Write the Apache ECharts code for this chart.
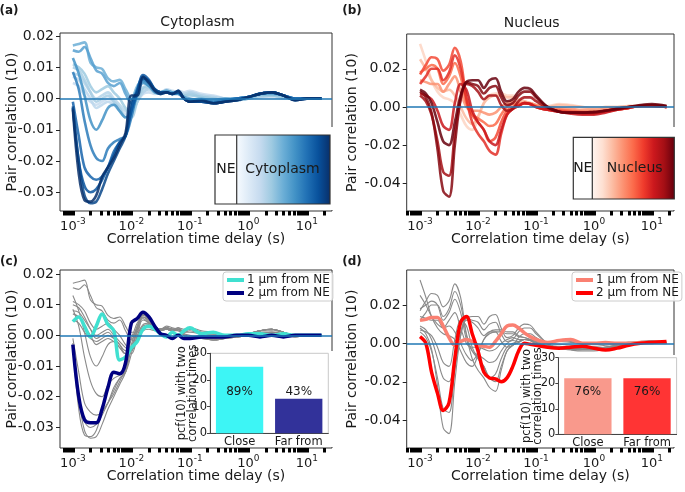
<!DOCTYPE html>
<html>
<head>
<meta charset="utf-8">
<script src="https://cdn.jsdelivr.net/npm/echarts@6/dist/echarts.min.js"></script>
<style>
  html, body { margin: 0; padding: 0; background: #fff; }
  #main { width: 685px; height: 492px; }
</style>
</head>
<body>
<div id="main"></div>
<script>
// correlation time delay (s), shared by every curve
const delayTimes = [0.001, 0.00126, 0.00158, 0.002, 0.00251, 0.00316, 0.00398, 0.00501, 0.00631, 0.00794,
  0.01, 0.0126, 0.0158, 0.02, 0.0251, 0.0316, 0.0398, 0.0501, 0.0631, 0.0794,
  0.1, 0.158, 0.251, 0.398, 0.631, 1, 1.58, 2.51, 3.98, 6.31, 10, 17.8];

// (a) cytoplasm pair correlation, light (near NE) -> dark (far)
const cyto1 = [0.005, 0.004, 0.001, -0.001, -0.002, -0.001, 0.000, -0.001, -0.003, -0.005, -0.004, -0.001, 0.0015, 0.002, 0.0015, 0.002, 0.0025, 0.002, 0.0025, 0.002, 0.0025, 0.0015, 0.001, 0.000, -0.0005, 0.000, 0.0005, 0.0005, 0.000, 0.000, 0.000, 0.000];
const cyto2 = [0.007, 0.006, 0.003, 0.000, -0.003, -0.002, -0.001, -0.002, -0.004, -0.006, -0.005, -0.001, 0.002, 0.003, 0.002, 0.002, 0.003, 0.0025, 0.002, 0.0015, 0.002, 0.001, 0.0005, 0.000, -0.0005, 0.000, 0.0005, 0.001, 0.0005, 0.000, 0.000, 0.000];
const cyto3 = [0.008, 0.0075, 0.005, 0.002, 0.000, 0.001, 0.002, 0.000, -0.002, -0.004, -0.005, -0.001, 0.002, 0.003, 0.002, 0.002, 0.0025, 0.002, 0.002, 0.0015, 0.002, 0.001, 0.0005, 0.000, -0.0005, 0.000, 0.0005, 0.001, 0.0005, 0.000, 0.000, 0.000];
const cyto4 = [0.010, 0.009, 0.006, 0.002, -0.001, 0.000, 0.001, -0.001, -0.003, -0.006, -0.006, -0.001, 0.003, 0.0035, 0.002, 0.002, 0.0025, 0.002, 0.002, 0.001, 0.0015, 0.0005, 0.000, -0.0005, -0.0005, 0.000, 0.001, 0.001, 0.0005, 0.000, 0.000, 0.000];
const cyto5 = [0.011, 0.010, 0.008, 0.004, 0.002, 0.003, 0.004, 0.002, 0.000, -0.003, -0.005, 0.000, 0.0035, 0.004, 0.0025, 0.002, 0.0025, 0.002, 0.002, 0.001, 0.001, 0.0005, 0.000, -0.0005, -0.0005, 0.000, 0.001, 0.001, 0.0005, 0.000, 0.000, 0.000];
const cyto6 = [0.017, 0.0175, 0.018, 0.0115, 0.010, 0.0095, 0.0065, 0.0055, 0.006, 0.003, 0.000, 0.004, 0.006, 0.0045, 0.0025, 0.002, 0.0025, 0.002, 0.002, 0.0005, -0.0005, 0.000, -0.001, -0.0005, 0.000, 0.0005, 0.0015, 0.002, 0.001, 0.000, 0.000, 0.000];
const cyto7 = [0.0155, 0.015, 0.0165, 0.013, 0.009, 0.008, 0.005, 0.004, 0.005, 0.0015, -0.0015, 0.003, 0.0055, 0.004, 0.0025, 0.002, 0.0025, 0.002, 0.0015, 0.0005, 0.000, -0.0005, -0.0005, 0.000, 0.000, 0.0005, 0.0015, 0.0015, 0.001, 0.000, 0.000, 0.000];
const cyto8 = [0.013, 0.008, 0.001, -0.007, -0.010, -0.007, -0.003, -0.002, -0.004, -0.006, -0.004, 0.001, 0.005, 0.004, 0.002, 0.0015, 0.002, 0.0015, 0.0015, 0.000, -0.0005, -0.0005, -0.001, -0.0005, 0.000, 0.0005, 0.0015, 0.002, 0.001, 0.000, 0.000, 0.000];
const cyto9 = [0.0085, 0.003, -0.007, -0.015, -0.019, -0.020, -0.016, -0.014, -0.013, -0.012, -0.006, 0.002, 0.006, 0.005, 0.0025, 0.0015, 0.002, 0.0015, 0.002, 0.000, -0.001, -0.0005, -0.001, -0.0005, 0.000, 0.0005, 0.0015, 0.002, 0.001, 0.000, 0.000, 0.000];
const cyto10 = [-0.001, -0.012, -0.022, -0.025, -0.026, -0.025, -0.022, -0.017, -0.014, -0.012, -0.003, 0.003, 0.007, 0.0055, 0.003, 0.002, 0.002, 0.0015, 0.002, 0.000, -0.001, -0.001, -0.0015, -0.001, 0.000, 0.0005, 0.0015, 0.002, 0.001, 0.000, 0.000, 0.000];
const cyto11 = [-0.003, -0.020, -0.028, -0.030, -0.029, -0.026, -0.022, -0.018, -0.014, -0.012, -0.004, 0.002, 0.0075, 0.006, 0.003, 0.002, 0.002, 0.0015, 0.0025, 0.000, -0.001, -0.001, -0.0015, -0.001, -0.0005, 0.0005, 0.0015, 0.002, 0.001, -0.0005, 0.000, 0.000];
const cyto12 = [-0.0025, -0.020, -0.031, -0.0335, -0.033, -0.029, -0.024, -0.020, -0.016, -0.012, -0.001, 0.002, 0.0065, 0.0055, 0.003, 0.002, 0.002, 0.0015, 0.002, 0.000, -0.001, -0.001, -0.0015, -0.001, -0.0005, 0.0005, 0.0015, 0.002, 0.001, -0.0005, 0.000, 0.000];
const cyto13 = [-0.0035, -0.024, -0.0325, -0.033, -0.031, -0.025, -0.022, -0.019, -0.015, -0.011, 0.001, 0.001, 0.007, 0.005, 0.0025, 0.0015, 0.002, 0.0015, 0.0025, 0.000, -0.001, -0.0005, -0.0015, -0.001, -0.0005, 0.0005, 0.0015, 0.002, 0.001, -0.0005, 0.000, 0.000];

// (b) nucleus pair correlation, light -> dark
const nuc1 = [0.033, 0.024, 0.014, 0.008, 0.005, 0.004, 0.002, -0.004, -0.010, -0.012, -0.006, 0.002, 0.006, 0.007, 0.007, 0.006, 0.006, 0.004, 0.003, 0.002, 0.001, 0.0005, 0.0015, 0.001, 0.000, -0.0005, 0.000, 0.000, 0.0005, 0.0005, 0.0005, 0.000];
const nuc2 = [0.025, 0.020, 0.014, 0.010, 0.008, 0.009, 0.006, 0.000, -0.006, -0.009, -0.005, 0.002, 0.005, 0.006, 0.006, 0.005, 0.005, 0.0035, 0.003, 0.002, 0.001, 0.000, 0.001, 0.0005, 0.000, -0.0005, 0.000, 0.000, 0.0005, 0.0005, 0.0005, 0.000];
const nuc3 = [0.014, 0.013, 0.012, 0.012, 0.008, 0.012, 0.016, 0.008, 0.000, -0.002, -0.002, -0.003, -0.004, -0.003, 0.000, 0.002, 0.003, 0.002, 0.002, 0.002, 0.001, 0.000, -0.0005, -0.001, -0.0015, -0.0015, -0.001, -0.0005, 0.000, 0.0005, 0.0005, 0.000];
const nuc4 = [0.018, 0.020, 0.022, 0.020, 0.012, 0.016, 0.023, 0.016, 0.002, -0.004, -0.006, -0.008, -0.010, -0.009, -0.004, 0.000, 0.0015, 0.001, 0.002, 0.0015, 0.0005, -0.001, -0.0015, -0.002, -0.0025, -0.0025, -0.002, -0.001, -0.0005, 0.0005, 0.0005, 0.000];
const nuc5 = [0.017, 0.022, 0.026, 0.025, 0.019, 0.022, 0.031, 0.024, 0.005, -0.004, -0.008, -0.012, -0.018, -0.016, -0.008, -0.002, 0.000, 0.001, 0.002, 0.0015, 0.000, -0.0015, -0.002, -0.0025, -0.003, -0.003, -0.002, -0.0015, -0.0005, 0.0005, 0.0005, 0.000];
const nuc6 = [0.012, 0.016, 0.020, 0.020, 0.014, 0.018, 0.027, 0.020, 0.004, -0.008, -0.014, -0.018, -0.023, -0.025, -0.014, -0.004, -0.001, 0.0005, 0.002, 0.0015, 0.000, -0.0015, -0.0025, -0.003, -0.0035, -0.0035, -0.0025, -0.0015, -0.0005, 0.0005, 0.0005, 0.000];
const nuc7 = [0.007, 0.006, 0.004, -0.002, -0.010, -0.012, 0.002, 0.012, 0.009, -0.002, -0.008, -0.012, -0.018, -0.020, -0.012, -0.004, -0.001, 0.0005, 0.002, 0.0015, 0.000, -0.0015, -0.0025, -0.0035, -0.004, -0.004, -0.003, -0.0015, -0.0005, 0.0005, 0.0005, 0.000];
const nuc8 = [0.006, 0.003, -0.004, -0.018, -0.034, -0.036, -0.014, 0.004, 0.012, 0.011, 0.008, 0.004, 0.006, 0.006, 0.001, -0.002, -0.001, 0.003, 0.005, 0.005, 0.003, -0.0005, -0.0025, -0.003, -0.003, -0.003, -0.002, -0.001, 0.000, 0.0005, 0.0005, 0.000];
const nuc9 = [0.008, 0.005, -0.003, -0.022, -0.044, -0.047, -0.020, 0.004, 0.013, 0.012, 0.011, 0.007, 0.010, 0.011, 0.005, 0.001, 0.002, 0.006, 0.008, 0.008, 0.005, 0.000, -0.0025, -0.003, -0.003, -0.003, -0.002, -0.001, 0.000, 0.0005, 0.001, 0.0005];
const nuc10 = [0.009, 0.007, 0.002, -0.008, -0.018, -0.020, -0.008, 0.006, 0.013, 0.014, 0.014, 0.010, 0.014, 0.015, 0.008, 0.003, 0.004, 0.008, 0.010, 0.0095, 0.006, 0.000, -0.0025, -0.003, -0.003, -0.0025, -0.002, -0.001, 0.000, 0.001, 0.0015, 0.0005];

// (c) / (d) highlighted curves
const cytoNear = [0.0045, 0.006, 0.003, -0.0005, 0.003, 0.007, 0.0035, 0.0015, -0.008, -0.007, -0.004, -0.002, 0.002, 0.003, 0.002, 0.0005, -0.0005, 0.001, 0.000, 0.0015, 0.0025, 0.0005, 0.001, 0.000, 0.000, 0.0005, 0.0005, 0.000, 0.0005, 0.000, 0.000, 0.000];
const cytoFar = [-0.003, -0.020, -0.0275, -0.0285, -0.0285, -0.024, -0.017, -0.012, -0.0125, -0.009, 0.004, 0.0055, 0.0075, 0.006, 0.003, 0.0005, 0.000, -0.001, 0.000, -0.001, -0.001, -0.0005, -0.0005, -0.0005, 0.000, 0.000, -0.0005, 0.000, -0.0005, 0.000, 0.000, 0.000];
const nucNear = [0.012, 0.0125, 0.0135, 0.0135, 0.009, 0.003, -0.001, 0.001, 0.002, 0.001, -0.001, -0.0015, -0.002, 0.001, 0.005, 0.009, 0.0095, 0.008, 0.0055, 0.0035, 0.002, 0.0005, 0.0015, 0.002, 0.000, 0.000, 0.0005, 0.000, 0.000, 0.0005, 0.0005, 0.0005];
const nucFar = [0.0035, 0.000, -0.015, -0.026, -0.035, -0.031, -0.008, 0.011, 0.014, 0.005, -0.004, -0.015, -0.018, -0.0185, -0.020, -0.018, -0.012, -0.004, 0.000, -0.0005, -0.001, -0.002, -0.0025, -0.002, -0.0015, -0.0025, -0.0035, -0.0025, -0.001, 0.000, 0.0005, 0.001];

// inset bar charts
const barCategories = ['Close', 'Far from'];
const twoTimesCyto = [25, 13];
const twoTimesNuc = [22, 22];
const pctCyto = ['89%', '43%'];
const pctNuc = ['76%', '76%'];

// tick labels
const yTicksCyto = [-0.03, -0.02, -0.01, 0, 0.01, 0.02];
const yTicksNuc = [-0.04, -0.02, 0, 0.02];
const xDecades = [-3, -2, -1, 0, 1];

const cytoCurves = [cyto1, cyto2, cyto3, cyto4, cyto5, cyto6, cyto7, cyto8, cyto9, cyto10, cyto11, cyto12, cyto13];
const nucCurves = [nuc1, nuc2, nuc3, nuc4, nuc5, nuc6, nuc7, nuc8, nuc9, nuc10];
const cytoColors = ['#c6dbef', '#bcd7ec', '#b4d3e9', '#a8cee4', '#9ecae1', '#6baed6', '#57a0d0', '#4292c6', '#2b7bba', '#1764ab', '#0b559f', '#08468a', '#08306b'];
const nucColors = ['#fdd5c3', '#fcbba1', '#fc9272', '#fb6a4a', '#f34935', '#e32f27', '#c9181d', '#a50f15', '#860811', '#67000d'];

const FONT = 'DejaVu Sans';
const INK = '#1a1a1a';

const logDelay = delayTimes.map(t => Math.log10(t));
const toPoints = vals => vals.map((v, i) => [logDelay[i], v]);

function minorTicksIn(lo, hi) {
  const out = [];
  for (let d = -4; d <= 1; d++) {
    for (let k = 1; k <= 9; k++) {
      const v = d + Math.log10(k);
      if (v >= lo && v <= hi) out.push(v);
    }
  }
  return out;
}

const panels = [
  { left: 60, top: 33, width: 272, height: 178, x: [-3.22, 1.43], y: [-0.036, 0.021], yTicks: yTicksCyto, gap: 41 },
  { left: 406.7, top: 34, width: 267.3, height: 177, x: [-3.23, 1.38], y: [-0.0545, 0.0382], yTicks: yTicksNuc, gap: 47 },
  { left: 60, top: 270, width: 272, height: 178, x: [-3.22, 1.43], y: [-0.0367, 0.0213], yTicks: yTicksCyto, gap: 41 },
  { left: 406.7, top: 270, width: 267.3, height: 178, x: [-3.23, 1.38], y: [-0.0545, 0.0382], yTicks: yTicksNuc, gap: 47 }
];

const grid = [], xAxis = [], yAxis = [], series = [];

panels.forEach((p, i) => {
  grid.push({
    left: p.left, top: p.top, width: p.width, height: p.height,
    show: true, borderColor: '#333', borderWidth: 1, backgroundColor: 'transparent',
    containLabel: false, outerBoundsMode: 'none'
  });
  xAxis.push({
    type: 'value', gridIndex: i, min: p.x[0], max: p.x[1], position: 'bottom',
    axisLine: { show: false, onZero: false }, splitLine: { show: false },
    axisTick: { show: true, customValues: minorTicksIn(p.x[0], p.x[1]), length: 4.5, lineStyle: { color: '#000', width: 3 } },
    axisLabel: {
      customValues: xDecades, margin: 6, color: INK, fontFamily: FONT,
      formatter: v => '{b|10}{sup|' + v + '}',
      rich: {
        b: { fontSize: 13, fontFamily: FONT, color: INK, verticalAlign: 'bottom' },
        sup: { fontSize: 9, fontFamily: FONT, color: INK, verticalAlign: 'bottom', padding: [0, 0, 7, 0] }
      }
    },
    name: 'Correlation time delay (s)', nameLocation: 'middle', nameGap: 21, nameMoveOverlap: false,
    nameTextStyle: { fontSize: 14, fontFamily: FONT, color: INK }
  });
  yAxis.push({
    type: 'value', gridIndex: i, min: p.y[0], max: p.y[1], position: 'left',
    axisLine: { show: false, onZero: false }, splitLine: { show: false },
    axisTick: { show: true, customValues: p.yTicks, length: 4, lineStyle: { color: '#222', width: 1 } },
    axisLabel: { customValues: p.yTicks, margin: 6, fontSize: 14, fontFamily: FONT, color: INK, formatter: v => v.toFixed(2) },
    name: 'Pair correlation (10)', nameLocation: 'middle', nameGap: p.gap, nameMoveOverlap: false,
    nameTextStyle: { fontSize: 14, fontFamily: FONT, color: INK }
  });
});

const zeroLine = {
  silent: true, symbol: ['none', 'none'], label: { show: false }, animation: false,
  lineStyle: { color: '#1f77b4', width: 1.5, type: 'solid', opacity: 1 },
  data: [{ yAxis: 0 }]
};

function curve(idx, vals, color, width, extra) {
  return Object.assign({
    type: 'line', xAxisIndex: idx, yAxisIndex: idx, data: toPoints(vals),
    smooth: 0.35, showSymbol: false, symbol: 'none', silent: true, animation: false,
    color: color, itemStyle: { color: color },
    lineStyle: { color: color, width: width }, z: 2
  }, extra || {});
}

// (a) and (b)
cytoCurves.forEach((c, k) => series.push(curve(0, c, cytoColors[k], 2.6,
  { lineStyle: { color: cytoColors[k], width: 2.6, opacity: 0.85 }, markLine: k === cytoCurves.length - 1 ? zeroLine : undefined })));
nucCurves.forEach((c, k) => series.push(curve(1, c, nucColors[k], 2.6,
  { lineStyle: { color: nucColors[k], width: 2.6, opacity: 0.85 }, markLine: k === nucCurves.length - 1 ? zeroLine : undefined })));

// (c) and (d): grey background curves + highlights
cytoCurves.forEach((c, k) => series.push(curve(2, c, '#8a8a8a', 1.1,
  { markLine: k === cytoCurves.length - 1 ? zeroLine : undefined })));
series.push(curve(2, cytoNear, '#40e0d0', 3.5, { name: 'c|1 μm from NE', z: 3 }));
series.push(curve(2, cytoFar, '#000080', 3.5, { name: 'c|2 μm from NE', z: 3 }));
nucCurves.forEach((c, k) => series.push(curve(3, c, '#8a8a8a', 1.1,
  { markLine: k === nucCurves.length - 1 ? zeroLine : undefined })));
series.push(curve(3, nucNear, '#fa8072', 3.5, { name: 'd|1 μm from NE', z: 3 }));
series.push(curve(3, nucFar, '#ff0000', 3.5, { name: 'd|2 μm from NE', z: 3 }));

// insets
const insets = [
  { left: 210, top: 353.3, width: 118.3, height: 80, values: twoTimesCyto, pct: pctCyto, colors: ['#3df5f5', '#32329a'],
    labels: [{ position: 'insideTop', distance: 19 }, { position: 'top', distance: 1 }], gap: 11 },
  { left: 558.3, top: 357.7, width: 118.3, height: 76.6, values: twoTimesNuc, pct: pctNuc, colors: ['#f9998c', '#ff3434'],
    labels: [{ position: 'insideTop', distance: 8 }, { position: 'insideTop', distance: 8 }], gap: 15 }
];
insets.forEach((s, j) => {
  const gi = 4 + j;
  grid.push({ left: s.left, top: s.top, width: s.width, height: s.height, show: false, containLabel: false, outerBoundsMode: 'none' });
  xAxis.push({
    type: 'category', gridIndex: gi, data: barCategories, z: 10,
    axisLine: { show: true, lineStyle: { color: '#444', width: 1 } }, axisTick: { show: false },
    axisLabel: { interval: 0, hideOverlap: false, fontSize: 11.5, fontFamily: FONT, color: INK, margin: 3 }
  });
  yAxis.push({
    type: 'value', gridIndex: gi, min: 0, max: 30, interval: 10, z: 10,
    axisLine: { show: true, lineStyle: { color: '#444', width: 1 } },
    axisTick: { show: true, length: 3, lineStyle: { color: '#444' } }, splitLine: { show: false },
    axisLabel: { fontSize: 11.5, fontFamily: FONT, color: INK, margin: 3 },
    name: 'pcf(10) with two\ncorrelation times', nameLocation: 'middle', nameGap: s.gap, nameMoveOverlap: false,
    nameTextStyle: { fontSize: 11.5, fontFamily: FONT, color: INK, lineHeight: 11 }
  });
  series.push({
    type: 'bar', xAxisIndex: gi, yAxisIndex: gi, barWidth: '80%', z: 10, silent: true, animation: false,
    data: s.values.map((v, i) => ({
      value: v,
      itemStyle: { color: s.colors[i] },
      label: Object.assign({ show: true, formatter: s.pct[i], fontSize: 12, fontFamily: FONT, color: INK }, s.labels[i])
    }))
  });
});

function txt(x, y, str, size, extra) {
  return {
    type: 'text', x: x, y: y, z: 8, silent: true,
    style: Object.assign({
      text: str, fill: INK, font: 'normal ' + size + 'px "' + FONT + '"',
      align: 'center', verticalAlign: 'middle', textAlign: 'center', textVerticalAlign: 'middle'
    }, extra || {})
  };
}
function rect(x, y, w, h, style, z) {
  return { type: 'rect', shape: { x: x, y: y, width: w, height: h }, style: style, z: z, silent: true };
}
const blues = new echarts.graphic.LinearGradient(0, 0, 1, 0, [
  { offset: 0, color: '#f7fbff' }, { offset: 0.125, color: '#deebf7' }, { offset: 0.25, color: '#c6dbef' },
  { offset: 0.375, color: '#9ecae1' }, { offset: 0.5, color: '#6baed6' }, { offset: 0.625, color: '#4292c6' },
  { offset: 0.75, color: '#2171b5' }, { offset: 0.875, color: '#08519c' }, { offset: 1, color: '#08306b' }]);
const reds = new echarts.graphic.LinearGradient(0, 0, 1, 0, [
  { offset: 0, color: '#fff5f0' }, { offset: 0.125, color: '#fee0d2' }, { offset: 0.25, color: '#fcbba1' },
  { offset: 0.375, color: '#fc9272' }, { offset: 0.5, color: '#fb6a4a' }, { offset: 0.625, color: '#ef3b2c' },
  { offset: 0.75, color: '#cb181d' }, { offset: 0.875, color: '#a50f15' }, { offset: 1, color: '#67000d' }]);

const graphic = [
  txt(9, 11, '(a)', 12, { font: 'bold 12px "' + FONT + '"' }),
  txt(352, 11, '(b)', 12, { font: 'bold 12px "' + FONT + '"' }),
  txt(9, 262, '(c)', 12, { font: 'bold 12px "' + FONT + '"' }),
  txt(352, 262, '(d)', 12, { font: 'bold 12px "' + FONT + '"' }),
  txt(197.5, 22.5, 'Cytoplasm', 14),
  txt(531.7, 23, 'Nucleus', 14),
  // white covers (inset backgrounds hide the right spine)
  rect(212, 127, 124, 83, { fill: '#fff' }, 5),
  rect(571, 127, 106, 83, { fill: '#fff' }, 5),
  rect(200, 351, 136, 96, { fill: '#fff' }, 5),
  rect(543, 355, 142, 92, { fill: '#fff' }, 5),
  // colour bars
  rect(236.7, 135, 93.3, 69, { fill: blues }, 6),
  rect(215, 135, 115, 69, { fill: 'none', stroke: '#333', lineWidth: 1.2 }, 7),
  { type: 'line', shape: { x1: 236.7, y1: 135, x2: 236.7, y2: 204 }, style: { stroke: '#333', lineWidth: 1.2 }, z: 7, silent: true },
  txt(226, 169.5, 'NE', 14),
  txt(282.5, 169.5, 'Cytoplasm', 14),
  rect(592.3, 137.3, 82, 61.7, { fill: reds }, 6),
  rect(573.3, 137.3, 101, 61.7, { fill: 'none', stroke: '#333', lineWidth: 1.2 }, 7),
  { type: 'line', shape: { x1: 592.3, y1: 137.3, x2: 592.3, y2: 199 }, style: { stroke: '#333', lineWidth: 1.2 }, z: 7, silent: true },
  txt(582.8, 168.5, 'NE', 14),
  txt(634.7, 168.5, 'Nucleus', 14),
  // inset frames
  rect(210, 353.3, 118.3, 80, { fill: 'none', stroke: '#c8c8c8', lineWidth: 1 }, 6),
  rect(558.3, 357.7, 118.3, 76.6, { fill: 'none', stroke: '#c8c8c8', lineWidth: 1 }, 6)
];

function legendFor(prefix, left) {
  return {
    data: [prefix + '|1 μm from NE', prefix + '|2 μm from NE'],
    left: left, top: 272, orient: 'vertical', icon: 'rect', itemWidth: 17, itemHeight: 4, itemGap: 1,
    padding: [2, 3, 2, 4], selectedMode: false, z: 9,
    backgroundColor: 'rgba(255,255,255,0.85)', borderColor: '#ccc', borderWidth: 1, borderRadius: 3,
    formatter: n => n.split('|')[1],
    textStyle: { fontSize: 12, fontFamily: FONT, color: INK, lineHeight: 10, padding: [0, 0, 0, -2] }
  };
}

const chart = echarts.init(document.getElementById('main'), null, { renderer: 'canvas' });
chart.setOption({
  animation: false,
  backgroundColor: '#fff',
  textStyle: { fontFamily: FONT },
  grid: grid,
  xAxis: xAxis,
  yAxis: yAxis,
  legend: [legendFor('c', 223), legendFor('d', 572)],
  graphic: graphic,
  series: series
});
</script>
</body>
</html>
